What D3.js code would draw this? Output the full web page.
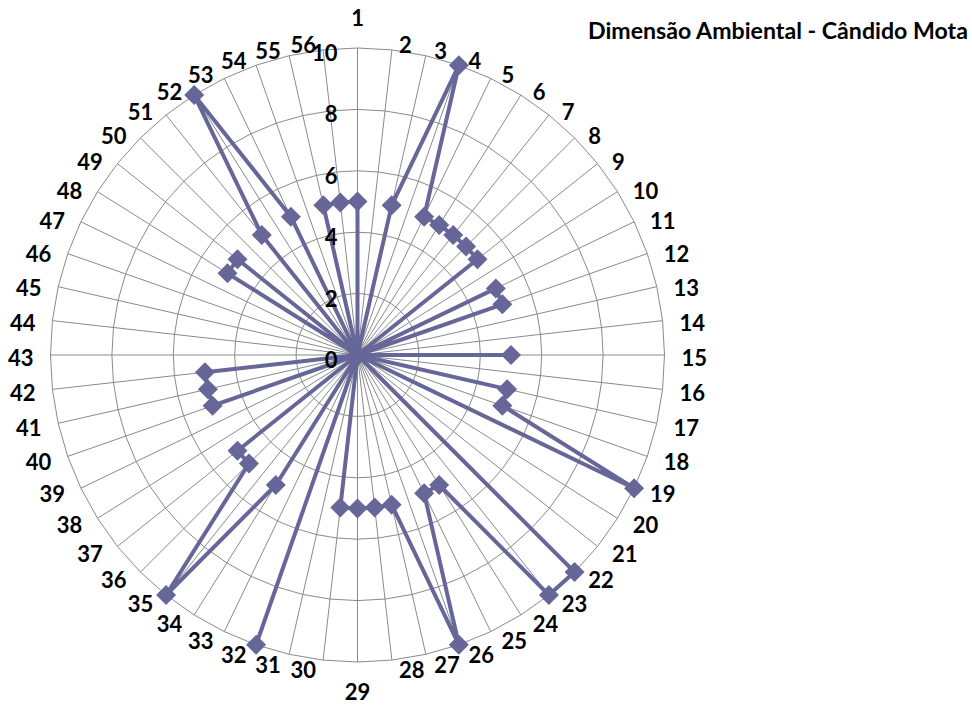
<!DOCTYPE html>
<html>
<head>
<meta charset="utf-8">
<script src="https://cdn.jsdelivr.net/npm/d3@7"></script>
<style>
  html, body { margin: 0; padding: 0; background: #ffffff; }
  svg { display: block; }
  text { font-family: Lato, "Open Sans", sans-serif; font-weight: 700; fill: #000; }
</style>
</head>
<body>
<svg id="chart" width="972" height="707"></svg>
<script>
// Radar chart: environmental dimension indicators (scores 0–10)
const categories = [
  "1","2","3","4","5","6","7","8","9","10","11","12","13","14",
  "15","16","17","18","19","20","21","22","23","24","25","26","27","28",
  "29","30","31","32","33","34","35","36","37","38","39","40","41","42",
  "43","44","45","46","47","48","49","50","51","52","53","54","55","56"
];
const values = [
  5, 0, 5, 10, 5, 5, 5, 5, 5, 0, 5, 5, 0, 0,
  5, 0, 5, 5, 10, 0, 0, 10, 10, 5, 5, 10, 5, 5,
  5, 5, 0, 10, 0, 5, 10, 5, 5, 0, 0, 5, 5, 5,
  0, 0, 0, 0, 0, 5, 5, 0, 5, 10, 5, 0, 5, 5
];
const tickValues = [0, 2, 4, 6, 8, 10];
const titleText = "Dimensão Ambiental - Cândido Mota";

const W = 972, H = 707;
const cx = 357.5, cy = 355, R = 307;
const seriesColor = "#666699";
const gridColor = "#8a8a8a";
const fontSize = 22;

const svg = d3.select("#chart");
const n = categories.length;

const rScale = d3.scaleLinear().domain([0, 10]).range([0, R]);
const aScale = d3.scaleLinear().domain([0, n]).range([0, 2 * Math.PI]);

const g = svg.append("g").attr("transform", `translate(${cx},${cy})`);

// concentric polygon gridlines
const ringLine = d3.lineRadial()
  .angle((d, i) => aScale(i))
  .radius(d => rScale(d))
  .curve(d3.curveLinearClosed);

g.append("g").selectAll("path")
  .data(tickValues.filter(t => t > 0))
  .join("path")
  .attr("d", t => ringLine(categories.map(() => t)))
  .attr("fill", "none")
  .attr("stroke", gridColor)
  .attr("stroke-width", 1);

// spokes
g.append("g").selectAll("line")
  .data(categories)
  .join("line")
  .attr("x1", 0).attr("y1", 0)
  .attr("x2", (d, i) => rScale(10) * Math.sin(aScale(i)))
  .attr("y2", (d, i) => -rScale(10) * Math.cos(aScale(i)))
  .attr("stroke", gridColor)
  .attr("stroke-width", 1);

// data series
const seriesLine = d3.lineRadial()
  .angle((d, i) => aScale(i))
  .radius(d => rScale(d))
  .curve(d3.curveLinearClosed);

g.append("path")
  .datum(values)
  .attr("d", seriesLine)
  .attr("fill", "none")
  .attr("stroke", seriesColor)
  .attr("stroke-width", 4)
  .attr("stroke-linejoin", "round");

// diamond markers
const m = 10;
g.append("g").selectAll("path")
  .data(values)
  .join("path")
  .attr("transform", (d, i) => {
    const a = aScale(i), r = rScale(d);
    return `translate(${r * Math.sin(a)},${-r * Math.cos(a)})`;
  })
  .attr("d", `M0,${-m}L${m},0L0,${m}L${-m},0Z`)
  .attr("fill", seriesColor);

// value axis labels along the first spoke
g.append("g").selectAll("text")
  .data(tickValues)
  .join("text")
  .attr("x", -20)
  .attr("y", t => -rScale(t) + 5 + 0.36 * fontSize)
  .attr("text-anchor", "end")
  .style("font-size", fontSize + "px")
  .text(t => t);

// category labels around the outside
g.append("g").selectAll("text")
  .data(categories)
  .join("text")
  .each(function (d, i) {
    const a = aScale(i);
    const s = Math.sin(a), c = Math.cos(a);
    const px = R * s, py = -R * c;
    const t = d3.select(this).style("font-size", fontSize + "px").text(d);
    let x, yc, anchor;
    if (Math.abs(s) < 0.01) {
      x = px; anchor = "middle";
      yc = py + (c > 0 ? -30 : 30);
    } else {
      const gx = 6 + 11 * Math.abs(s);
      x = px + (s > 0 ? gx : -gx);
      anchor = s > 0 ? "start" : "end";
      yc = py + 3 - 7.5 * c;
    }
    t.attr("x", x).attr("y", yc + 0.36 * fontSize).attr("text-anchor", anchor);
  });

// chart title, fitted to its slot at the top right
const title = svg.append("text")
  .attr("x", 588)
  .attr("y", 39)
  .style("font-size", "22px")
  .text(titleText);
const tw = title.node().getComputedTextLength();
title.style("font-size", (22 * 380 / tw).toFixed(2) + "px");
</script>
</body>
</html>
